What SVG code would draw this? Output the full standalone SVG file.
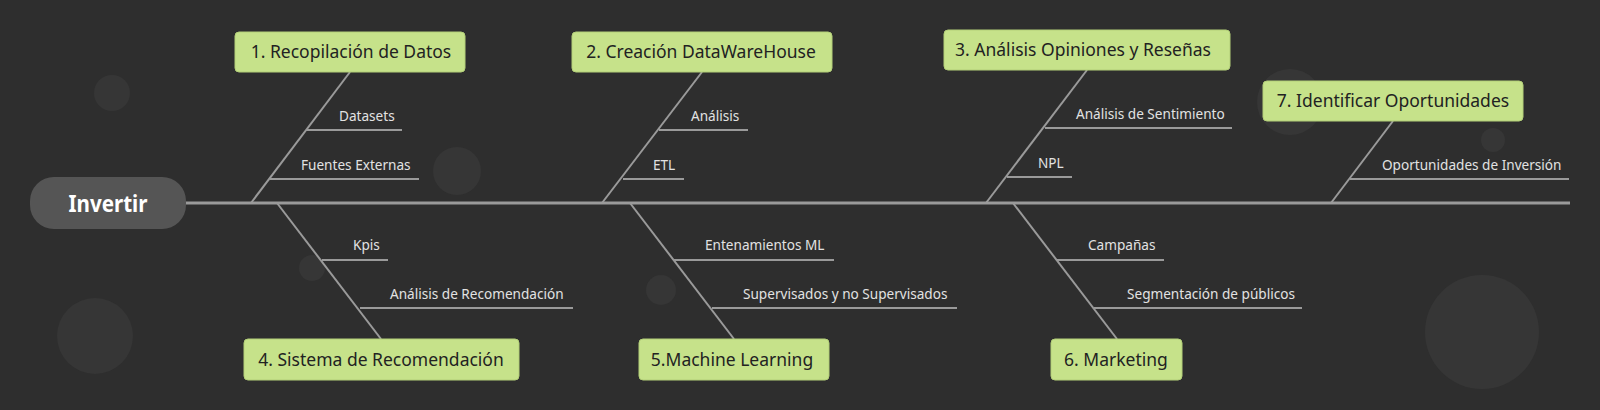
<svg xmlns="http://www.w3.org/2000/svg" width="1600" height="410" viewBox="0 0 1600 410">
<style>
.bg{fill:#2e2e2e}
.dot{fill:#363636}
.box{fill:#c6e28a;stroke:#b3cf78;stroke-width:1}
.bt{font-family:"Noto Sans","Open Sans",sans-serif;font-size:17.5px;fill:#222;text-anchor:middle}
.st{font-family:"Noto Sans","Open Sans",sans-serif;font-size:13.6px;fill:#e2e2e2}
.br{stroke:#9a9a9a;stroke-width:2;fill:none}
.sp{stroke:#9a9a9a;stroke-width:3;fill:none}
.root{fill:#555555}
.rt{font-family:"Noto Sans","Open Sans",sans-serif;font-size:24px;font-weight:bold;fill:#fff;text-anchor:middle}
</style>
<rect class="bg" x="0" y="0" width="1600" height="410"/>
<g id="decor">
<circle class="dot" cx="112" cy="93" r="18"/>
<circle class="dot" cx="457" cy="171" r="24"/>
<circle class="dot" cx="312" cy="268" r="13"/>
<circle class="dot" cx="95" cy="336" r="38"/>
<circle class="dot" cx="661" cy="290" r="15"/>
<circle class="dot" cx="1290" cy="102" r="33"/>
<circle class="dot" cx="1493" cy="140" r="12"/>
<circle class="dot" cx="1482" cy="332" r="57"/>
</g>
<g id="connectors">
<line class="sp" x1="186" y1="203" x2="1570" y2="203"/>
<line class="br" x1="350" y1="72" x2="251" y2="203"/>
<line class="br" x1="702" y1="72" x2="602" y2="203"/>
<line class="br" x1="1087" y1="70" x2="986" y2="203"/>
<line class="br" x1="1393" y1="121" x2="1331" y2="203"/>
<line class="br" x1="277" y1="203" x2="381" y2="339"/>
<line class="br" x1="630" y1="203" x2="734" y2="339"/>
<line class="br" x1="1013" y1="203" x2="1117" y2="339"/>
<line class="br" x1="306" y1="130" x2="402" y2="130"/>
<line class="br" x1="270" y1="179" x2="419" y2="179"/>
<line class="br" x1="659" y1="130" x2="748" y2="130"/>
<line class="br" x1="623" y1="179" x2="684" y2="179"/>
<line class="br" x1="1045" y1="128" x2="1232" y2="128"/>
<line class="br" x1="1007" y1="177" x2="1072" y2="177"/>
<line class="br" x1="1350" y1="179" x2="1569" y2="179"/>
<line class="br" x1="322" y1="260" x2="388" y2="260"/>
<line class="br" x1="360" y1="308" x2="573" y2="308"/>
<line class="br" x1="674" y1="260" x2="834" y2="260"/>
<line class="br" x1="712" y1="308" x2="957" y2="308"/>
<line class="br" x1="1057" y1="260" x2="1164" y2="260"/>
<line class="br" x1="1094" y1="308" x2="1302" y2="308"/>
</g>
<g id="root">
<rect class="root" x="30" y="177" width="156" height="52" rx="24"/>
<text class="rt" x="108" y="212" textLength="79" lengthAdjust="spacingAndGlyphs">Invertir</text>
</g>
<g id="n1">
<rect class="box" x="235" y="32" width="230" height="40" rx="4"/>
<text class="bt" x="351" y="58">1. Recopilación de Datos</text>
<text class="st" x="339" y="121">Datasets</text>
<text class="st" x="301" y="170">Fuentes Externas</text>
</g>
<g id="n2">
<rect class="box" x="572" y="32" width="260" height="40" rx="4"/>
<text class="bt" x="701" y="58">2. Creación DataWareHouse</text>
<text class="st" x="691" y="121">Análisis</text>
<text class="st" x="653" y="170">ETL</text>
</g>
<g id="n3">
<rect class="box" x="944" y="30" width="286" height="40" rx="4"/>
<text class="bt" x="1083" y="56">3. Análisis Opiniones y Reseñas</text>
<text class="st" x="1076" y="119">Análisis de Sentimiento</text>
<text class="st" x="1038" y="168">NPL</text>
</g>
<g id="n7">
<rect class="box" x="1263" y="81" width="260" height="40" rx="4"/>
<text class="bt" x="1393" y="107">7. Identificar Oportunidades</text>
<text class="st" x="1382" y="170">Oportunidades de Inversión</text>
</g>
<g id="n4">
<rect class="box" x="244" y="339" width="275" height="41" rx="4"/>
<text class="bt" x="381" y="366">4. Sistema de Recomendación</text>
<text class="st" x="353" y="250">Kpis</text>
<text class="st" x="390" y="299">Análisis de Recomendación</text>
</g>
<g id="n5">
<rect class="box" x="639" y="339" width="190" height="41" rx="4"/>
<text class="bt" x="732" y="366">5.Machine Learning</text>
<text class="st" x="705" y="250">Entenamientos ML</text>
<text class="st" x="743" y="299">Supervisados y no Supervisados</text>
</g>
<g id="n6">
<rect class="box" x="1051" y="339" width="131" height="41" rx="4"/>
<text class="bt" x="1116" y="366">6. Marketing</text>
<text class="st" x="1088" y="250">Campañas</text>
<text class="st" x="1127" y="299">Segmentación de públicos</text>
</g>
</svg>
